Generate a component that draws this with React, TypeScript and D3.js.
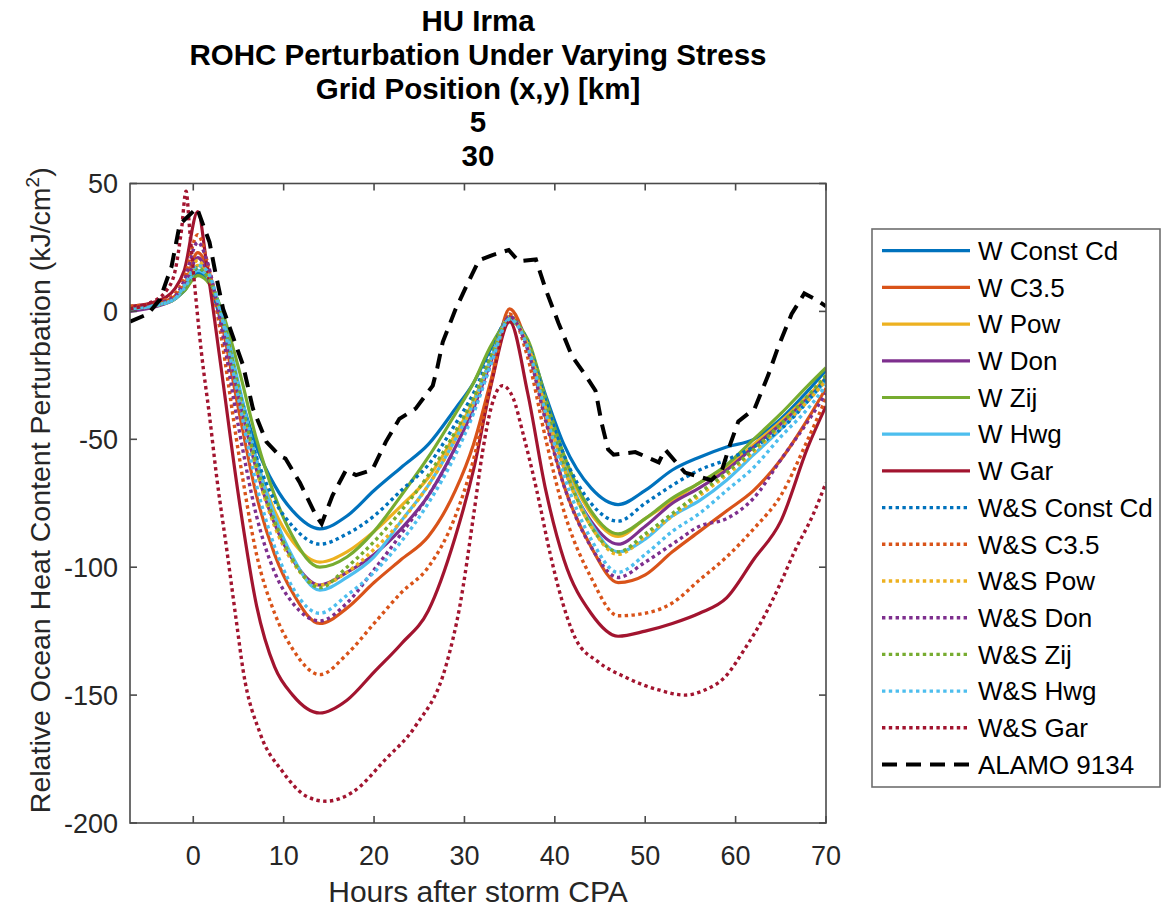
import React, { useEffect, useRef } from "react";
import * as d3 from "d3";

// ---------- data ----------
const HOURS = [-7, -4, -2, -1, 0.5, 1.5, 3, 5, 7, 9, 11, 14, 17, 20, 23, 26, 29, 31, 33, 35, 37, 39, 41, 44, 47, 50, 53, 56, 59, 62, 65, 68, 70];

const W_CONST_CD = [1, 2.5, 5, 8, 15, 13, -3, -30, -53, -68, -78, -85, -80, -70, -61, -52, -38, -28, -14, -3, -12, -33, -52, -69, -75.5, -70, -62, -57, -53, -50, -42, -31, -23];
const W_C35 = [1, 3, 6, 10, 23, 18, -2, -38, -72, -95, -110, -122, -116, -106, -97, -88, -70, -52, -26, 1, -14, -42, -68, -92, -106, -103, -94, -86, -78, -70, -58, -42, -30];
const W_POW = [1, 2.5, 5, 9, 18, 15, 0, -30, -58, -78, -90, -98, -94, -86, -76, -65, -48, -35, -18, -2, -13, -37, -58, -79, -88, -81, -74, -67, -61, -52, -43, -33, -26];
const W_DON = [0, 2, 5, 9, 21, 16, 0, -33, -62, -83, -97, -107, -102, -95, -85, -72, -53, -38, -19, -2, -13, -38, -61, -82, -91, -84, -75, -69, -62, -53, -44, -34, -27];
const W_ZIJ = [1, 2.5, 5, 8, 14, 12, 2, -22, -50, -72, -88, -100, -96, -86, -72, -57, -40, -28, -13, -4, -11, -34, -56, -78, -87, -81, -73, -67, -60, -50, -40, -29, -22];
const W_HWG = [1, 2.5, 5, 9, 16, 14, 1, -28, -58, -80, -96, -109, -104, -96, -82, -68, -50, -36, -18, -3, -13, -37, -60, -83, -94, -89, -80, -74, -66, -56, -46, -35, -27];
const W_GAR = [2, 4, 9, 16, 39, 18, -20, -72, -115, -139, -150, -157, -152, -141, -130, -117, -88, -62, -28, -4, -32, -70, -97, -118, -127, -125, -122, -118, -112, -97, -82, -53, -37];
const WS_CONST_CD = [1, 2.5, 5, 9, 17, 14, 0, -30, -57, -74, -84, -91, -87, -80, -70, -60, -44, -32, -16, -2, -12, -35, -56, -75, -82, -75, -68, -62, -58, -53, -46, -35, -26];
const WS_C35 = [2, 3.5, 7, 13, 30, 20, -8, -55, -95, -118, -132, -142, -134, -122, -110, -100, -80, -58, -27, -1, -18, -50, -78, -104, -119, -118, -114, -105, -96, -85, -72, -50, -34];
const WS_POW = [1, 2.5, 5, 10, 20, 15, 0, -32, -62, -84, -98, -107, -102, -93, -82, -68, -50, -36, -18, -2, -13, -38, -61, -84, -95, -88, -80, -72, -64, -55, -45, -35, -27];
const WS_DON = [1, 3, 6, 12, 27, 20, -4, -45, -80, -102, -114, -121, -114, -101, -87, -72, -54, -39, -20, -2, -15, -43, -68, -92, -104, -98, -91, -84, -81, -73, -58, -43, -32];
const WS_ZIJ = [1, 2.5, 5, 9, 17, 14, 1, -30, -60, -82, -97, -108, -100, -90, -78, -64, -47, -34, -17, -3, -12, -37, -60, -84, -94, -87, -79, -71, -63, -54, -44, -33, -25];
const WS_HWG = [1, 2.5, 5, 10, 18, 16, 0, -34, -68, -92, -108, -118, -111, -102, -90, -75, -56, -40, -20, -3, -14, -40, -64, -89, -102, -95, -86, -79, -70, -61, -49, -38, -29];

const WS_GAR_HOURS = [-7, -5, -3, -2, -1.3, -0.8, -0.4, 0, 0.9, 1.8, 2.6, 3.7, 4.8, 5.5, 7.4, 9.9, 12.5, 14.7, 17.6, 21.3, 24.6, 28, 29.5, 31, 32, 33, 34.2, 35.4, 36.5, 38, 39.5, 40.4, 42.3, 44.8, 47.8, 51.5, 54.4, 56.6, 58.8, 61, 63.2, 65, 66.5, 68.5, 70];
const WS_GAR = [1, 3, 8, 16, 32, 47, 32, 16, -16, -41, -65, -93, -122, -140, -165, -180, -189.5, -191.5, -188, -175, -162, -138, -115, -80, -55, -37, -29, -34, -48, -70, -95, -108, -128, -137, -143, -148, -150, -148, -143, -132, -119, -106, -94, -80, -67];

const ALAMO_HOURS = [-7, -5, -3.7, -2.4, -1.5, 0.4, 1.8, 2.4, 3.3, 4.6, 5.5, 6.6, 8.1, 9.6, 10.2, 11.8, 13.6, 14.2, 15.4, 16.9, 18, 19.8, 21.3, 22.8, 24.6, 26.5, 27, 27.6, 29, 30.5, 31.6, 33.1, 34.9, 36, 37.9, 39, 40.4, 41.9, 43.4, 44.5, 45.2, 45.9, 46.5, 48.9, 51.5, 52.2, 54.4, 57.3, 58.5, 59.2, 60.3, 62.1, 63.6, 64.7, 66.2, 67.6, 68.9, 70];
const ALAMO_9134 = [-4, -1, 4.6, 17.6, 34, 40.5, 27, 16, 1, -12, -21, -38, -51, -56.6, -57.5, -67, -80, -83, -72, -62, -64, -62, -51, -42, -38, -29, -22, -12, 0.7, 12, 20, 22, 24, 19.6, 20.3, 8.5, -4.5, -17.5, -25, -31, -44, -54, -56, -55, -59, -54, -63, -66, -62, -54, -43, -38, -25, -14, -1, 7, 4.6, 2];

const SERIES_NAMES = ["W Const Cd", "W C3.5", "W Pow", "W Don", "W Zij", "W Hwg", "W Gar", "W&S Const Cd", "W&S C3.5", "W&S Pow", "W&S Don", "W&S Zij", "W&S Hwg", "W&S Gar", "ALAMO 9134"];
const X_TICKS = [0, 10, 20, 30, 40, 50, 60, 70];
const Y_TICKS = [50, 0, -50, -100, -150, -200];
const TITLE_LINES = ["HU Irma", "ROHC Perturbation Under Varying Stress", "Grid Position (x,y) [km]", "5", "30"];

// ---------- styling ----------
const COLORS = ["#0072BD", "#D95319", "#EDB120", "#7E2F8E", "#77AC30", "#4DBEEE", "#A2142F"];
const FONT = "'Liberation Sans', Arial, Helvetica, sans-serif";

export default function App() {
  const ref = useRef<SVGSVGElement>(null);

  useEffect(() => {
    const svg = d3.select(ref.current);
    svg.selectAll("*").remove();

    const L = 130, R = 826, T = 183.5, B = 823;
    const x = d3.scaleLinear().domain([-7, 70]).range([L, R]);
    const y = d3.scaleLinear().domain([-200, 50]).range([B, T]);

    svg.append("rect").attr("width", 1165).attr("height", 911).attr("fill", "#fff");

    const defs = svg.append("defs");
    defs.append("clipPath").attr("id", "plotclip")
      .append("rect").attr("x", L).attr("y", T - 2).attr("width", R - L).attr("height", B - T + 4);

    type S = { name: string; xs: number[]; ys: number[]; color: string; kind: "solid" | "dot" | "dash" };
    const modelVals = [W_CONST_CD, W_C35, W_POW, W_DON, W_ZIJ, W_HWG, W_GAR, WS_CONST_CD, WS_C35, WS_POW, WS_DON, WS_ZIJ, WS_HWG];
    const series: S[] = modelVals.map((v, i) => ({
      name: SERIES_NAMES[i], xs: HOURS, ys: v, color: COLORS[i % 7], kind: i < 7 ? "solid" : "dot",
    }));
    series.push({ name: SERIES_NAMES[13], xs: WS_GAR_HOURS, ys: WS_GAR, color: COLORS[6], kind: "dot" });
    series.push({ name: SERIES_NAMES[14], xs: ALAMO_HOURS, ys: ALAMO_9134, color: "#000", kind: "dash" });

    const styleLine = (sel: any, s: S) => {
      sel.attr("fill", "none").attr("stroke", s.color);
      if (s.kind === "solid") sel.attr("stroke-width", 3.2).attr("stroke-linejoin", "round");
      else if (s.kind === "dot") sel.attr("stroke-width", 3.4).attr("stroke-dasharray", "3.4 3.4");
      else sel.attr("stroke-width", 4).attr("stroke-dasharray", "15 9");
    };

    const g = svg.append("g").attr("clip-path", "url(#plotclip)");
    series.forEach((s) => {
      const pts: [number, number][] = s.xs.map((h, i) => [h, s.ys[i]]);
      const line = d3.line<[number, number]>()
        .x((d) => x(d[0])).y((d) => y(d[1]))
        .curve(s.kind === "dash" ? d3.curveLinear : d3.curveMonotoneX);
      const p = g.append("path").attr("d", line(pts));
      styleLine(p, s);
    });

    // axes box
    const axisColor = "#4a4a4a";
    svg.append("rect").attr("x", L).attr("y", T).attr("width", R - L).attr("height", B - T)
      .attr("fill", "none").attr("stroke", axisColor).attr("stroke-width", 1.6);
    const tl = 7;
    X_TICKS.forEach((t) => {
      const px = x(t);
      svg.append("line").attr("x1", px).attr("x2", px).attr("y1", B).attr("y2", B - tl).attr("stroke", axisColor).attr("stroke-width", 1.6);
      svg.append("line").attr("x1", px).attr("x2", px).attr("y1", T).attr("y2", T + tl).attr("stroke", axisColor).attr("stroke-width", 1.6);
      svg.append("text").attr("x", px).attr("y", 865).attr("text-anchor", "middle")
        .attr("font-family", FONT).attr("font-size", 27).attr("fill", "#262626").text(String(t));
    });
    Y_TICKS.forEach((t) => {
      const py = y(t);
      svg.append("line").attr("x1", L).attr("x2", L + tl).attr("y1", py).attr("y2", py).attr("stroke", axisColor).attr("stroke-width", 1.6);
      svg.append("line").attr("x1", R).attr("x2", R - tl).attr("y1", py).attr("y2", py).attr("stroke", axisColor).attr("stroke-width", 1.6);
      svg.append("text").attr("x", 118).attr("y", py + 9.6).attr("text-anchor", "end")
        .attr("font-family", FONT).attr("font-size", 27).attr("fill", "#262626").text(String(t));
    });

    // axis labels
    svg.append("text").attr("x", (L + R) / 2).attr("y", 902).attr("text-anchor", "middle")
      .attr("font-family", FONT).attr("font-size", 30).attr("fill", "#262626").text("Hours after storm CPA");
    const yl = svg.append("text").attr("transform", `translate(50,${(T + B) / 2 - 13}) rotate(-90)`)
      .attr("text-anchor", "middle").attr("font-family", FONT).attr("font-size", 28.5).attr("fill", "#262626");
    yl.append("tspan").text("Relative Ocean Heat Content Perturbation (kJ/cm");
    yl.append("tspan").attr("font-size", 19).attr("dy", -11).text("2");
    yl.append("tspan").attr("dy", 11).text(")");

    // title
    TITLE_LINES.forEach((tline, i) => {
      svg.append("text").attr("x", (L + R) / 2).attr("y", 31 + i * 33.8).attr("text-anchor", "middle")
        .attr("font-family", FONT).attr("font-weight", "bold").attr("font-size", 29.5).attr("fill", "#000").text(tline);
    });

    // legend
    const lgX = 872, lgY = 229, lgW = 288, lgH = 558;
    svg.append("rect").attr("x", lgX).attr("y", lgY).attr("width", lgW).attr("height", lgH)
      .attr("fill", "#fff").attr("stroke", "#6e6e6e").attr("stroke-width", 1.6);
    series.forEach((s, i) => {
      const yy = 250.7 + i * 36.7;
      const l = svg.append("line").attr("x1", 882).attr("x2", 970).attr("y1", yy).attr("y2", yy);
      styleLine(l, s);
      svg.append("text").attr("x", 978).attr("y", yy + 9.2).attr("font-family", FONT).attr("font-size", 26)
        .attr("fill", "#000").text(s.name);
    });
  }, []);

  return (
    <svg ref={ref} width={1165} height={911}
      style={{ position: "absolute", left: 0, top: 0, display: "block" }} />
  );
}
